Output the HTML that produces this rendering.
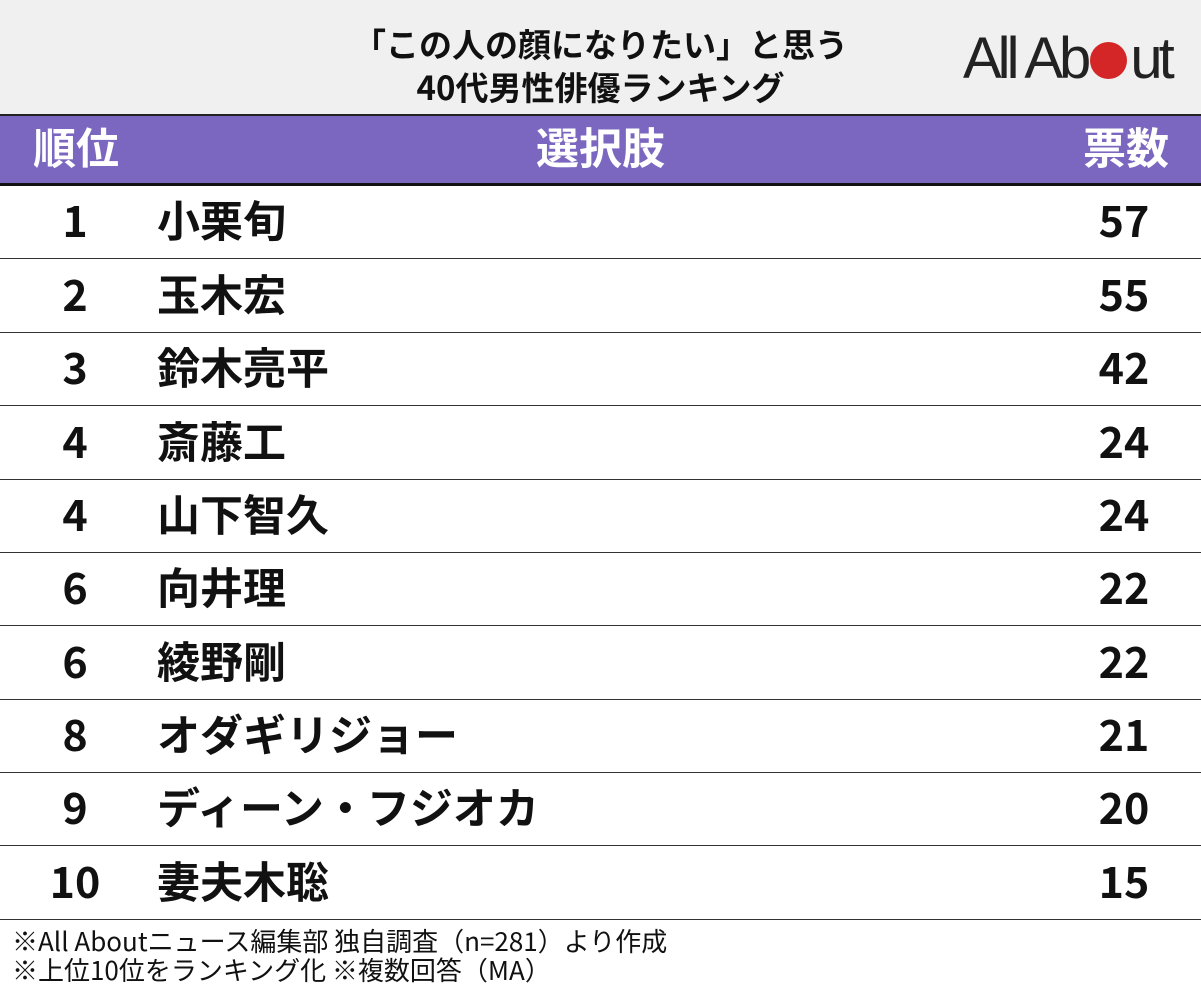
<!DOCTYPE html>
<html><head><meta charset="utf-8"><style>
body{margin:0;width:1201px;height:995px;background:#fff;font-family:"Liberation Sans","Noto Sans CJK JP",sans-serif;position:relative;overflow:hidden}
.hd{position:absolute;left:0;top:0;width:1201px;height:114px;background:#f0f0f0}
.t{position:absolute;left:0;width:1201px;text-align:center;font-family:"Noto Sans CJK JP",sans-serif;font-weight:700;font-size:33px;color:#111;line-height:1}
.logo{position:absolute;left:963px;top:30px;font-family:"Liberation Sans",sans-serif;font-size:58px;letter-spacing:-4px;color:#222;line-height:1}
.logo i{display:inline-block;width:37px;height:37px;border-radius:50%;background:#d42626;vertical-align:-1px;margin:0 3px}
.ph{position:absolute;left:0;top:114px;width:1201px;height:72px;background:#7b67bf;border-top:2px solid #222;border-bottom:3px solid #111;box-sizing:border-box;color:#fff;font-family:"Noto Sans CJK JP",sans-serif;font-weight:700;font-size:43px}
.ph span{position:absolute;top:5px;line-height:1.2}
.row{position:absolute;left:0;width:1201px;height:73px;border-bottom:1.5px solid #333;box-sizing:border-box;font-family:"Noto Sans CJK JP",sans-serif;font-weight:700;font-size:43px;color:#111}
.row span{position:absolute;top:6px;line-height:1.3}
.r{width:150px;text-align:center;left:0}
.n{left:157px}
.v{width:120px;text-align:center;left:1064px}
.ft{position:absolute;left:12px;font-family:"Noto Sans CJK JP",sans-serif;font-size:26px;color:#111;line-height:1}
</style></head><body>
<div class="hd"></div>
<div class="t" style="top:27px">「この人の顔になりたい」と思う</div>
<div class="t" style="top:70px">40代男性俳優ランキング</div>
<div class="logo">All Ab<i></i>ut</div>
<div class="ph"><span style="left:33px">順位</span><span style="left:536px">選択肢</span><span style="left:1083px">票数</span></div>
<div class="row" style="top:186px"><span class="r">1</span><span class="n">小栗旬</span><span class="v">57</span></div>
<div class="row" style="top:260px"><span class="r">2</span><span class="n">玉木宏</span><span class="v">55</span></div>
<div class="row" style="top:333px"><span class="r">3</span><span class="n">鈴木亮平</span><span class="v">42</span></div>
<div class="row" style="top:407px"><span class="r">4</span><span class="n">斎藤工</span><span class="v">24</span></div>
<div class="row" style="top:480px"><span class="r">4</span><span class="n">山下智久</span><span class="v">24</span></div>
<div class="row" style="top:553px"><span class="r">6</span><span class="n">向井理</span><span class="v">22</span></div>
<div class="row" style="top:627px"><span class="r">6</span><span class="n">綾野剛</span><span class="v">22</span></div>
<div class="row" style="top:700px"><span class="r">8</span><span class="n">オダギリジョー</span><span class="v">21</span></div>
<div class="row" style="top:773px"><span class="r">9</span><span class="n">ディーン・フジオカ</span><span class="v">20</span></div>
<div class="row" style="top:847px"><span class="r">10</span><span class="n">妻夫木聡</span><span class="v">15</span></div>
<div class="ft" style="top:928px">※All Aboutニュース編集部 独自調査（n=281）より作成</div>
<div class="ft" style="top:957px">※上位10位をランキング化 ※複数回答（MA）</div>
</body></html>
